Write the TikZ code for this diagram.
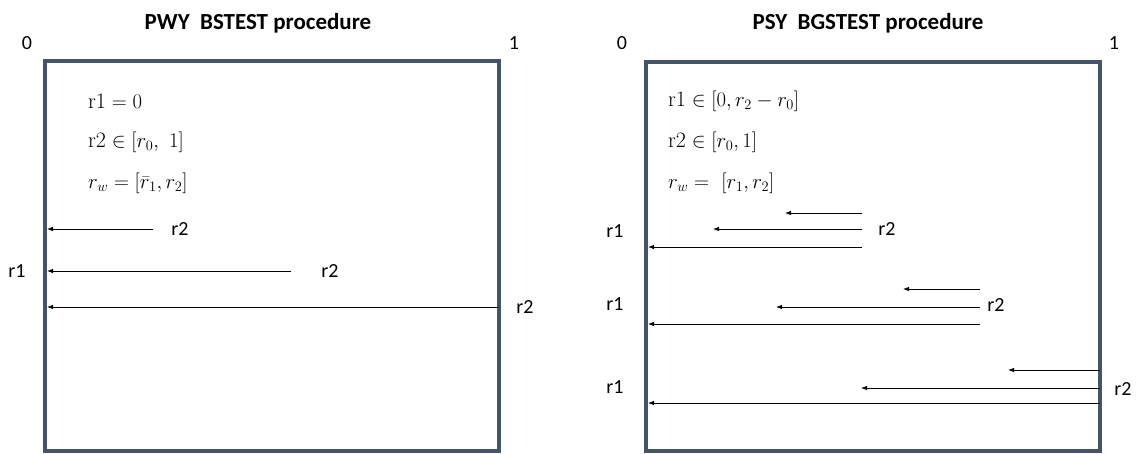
\documentclass[tikz,border=0pt]{standalone}
\usepackage{fontspec}
\setsansfont{Carlito}
\usetikzlibrary{arrows.meta}
\definecolor{framecol}{HTML}{44546A}
\begin{document}
\begin{tikzpicture}[x=1pt,y=-1pt,
  frame/.style={draw=framecol, line width=3.2pt, inner sep=0pt},
  lbl/.style={font=\sffamily\fontsize{20}{24}\selectfont, inner sep=0pt},
  ttl/.style={font=\sffamily\bfseries\fontsize{23}{27}\selectfont, inner sep=0pt},
  eq/.style={font=\fontsize{22}{26}\selectfont, anchor=west, inner sep=0pt},
  arr/.style={-{Latex[length=6pt,width=4.5pt]}, line width=0.8pt}]
\useasboundingbox (0,0) rectangle (1138,453);
% ---------- left panel ----------
\node[ttl] (tL) at (258,23) {PWY\ \ BSTEST procedure};
\node[lbl] (zL) at (27,43) {0};
\node[lbl] (oL) at (514,43) {1};
\draw[frame] (45,61) rectangle (499,451);
\node[eq] (eL1) at (88,101) {$\mathrm{r1} = 0$};
\node[eq] (eL2) at (88,142) {$\mathrm{r2} \in [r_0,\ 1]$};
\node[eq] (eL3) at (88,183) {$r_w = [\bar{r}_1, r_2]$};
\coordinate (la1s) at (153,229); \coordinate (la1e) at (47,229);
\coordinate (la2s) at (291,271); \coordinate (la2e) at (47,271);
\coordinate (la3s) at (499,307); \coordinate (la3e) at (47,307);
\draw[arr] (la1s) -- (la1e);
\draw[arr] (la2s) -- (la2e);
\draw[arr] (la3s) -- (la3e);
\node[lbl] (lr2a) at (180,229) {r2};
\node[lbl] (lr2b) at (330,271) {r2};
\node[lbl] (lr2c) at (525,307) {r2};
\node[lbl] (lr1) at (17,271) {r1};
% ---------- right panel ----------
\node[ttl] (tR) at (868,23) {PSY\ \ BGSTEST procedure};
\node[lbl] (zR) at (622,43) {0};
\node[lbl] (oR) at (1114,43) {1};
\draw[frame] (646,62) rectangle (1100,451);
\node[eq] (eR1) at (668,101) {$\mathrm{r1} \in [0, r_2 - r_0]$};
\node[eq] (eR2) at (668,142) {$\mathrm{r2} \in [r_0, 1]$};
\node[eq] (eR3) at (668,183) {$r_w =\ [r_1, r_2]$};
% group 1
\coordinate (g1as) at (862,213); \coordinate (g1ae) at (785,213);
\coordinate (g1bs) at (862,229); \coordinate (g1be) at (713,229);
\coordinate (g1cs) at (862,247); \coordinate (g1ce) at (648,247);
\draw[arr] (g1as) -- (g1ae);
\draw[arr] (g1bs) -- (g1be);
\draw[arr] (g1cs) -- (g1ce);
\node[lbl] (r2g1) at (887,229) {r2};
\node[lbl] (r1g1) at (615,231) {r1};
% group 2
\coordinate (g2as) at (980,289); \coordinate (g2ae) at (903,289);
\coordinate (g2bs) at (980,307); \coordinate (g2be) at (776,307);
\coordinate (g2cs) at (980,324); \coordinate (g2ce) at (648,324);
\draw[arr] (g2as) -- (g2ae);
\draw[arr] (g2bs) -- (g2be);
\draw[arr] (g2cs) -- (g2ce);
\node[lbl] (r2g2) at (996,305) {r2};
\node[lbl] (r1g2) at (615,304) {r1};
% group 3
\coordinate (g3as) at (1100,370); \coordinate (g3ae) at (1008,370);
\coordinate (g3bs) at (1100,388); \coordinate (g3be) at (861,388);
\coordinate (g3cs) at (1100,403); \coordinate (g3ce) at (648,403);
\draw[arr] (g3as) -- (g3ae);
\draw[arr] (g3bs) -- (g3be);
\draw[arr] (g3cs) -- (g3ce);
\node[lbl] (r2g3) at (1123,389) {r2};
\node[lbl] (r1g3) at (615,387) {r1};
\end{tikzpicture}
\end{document}
